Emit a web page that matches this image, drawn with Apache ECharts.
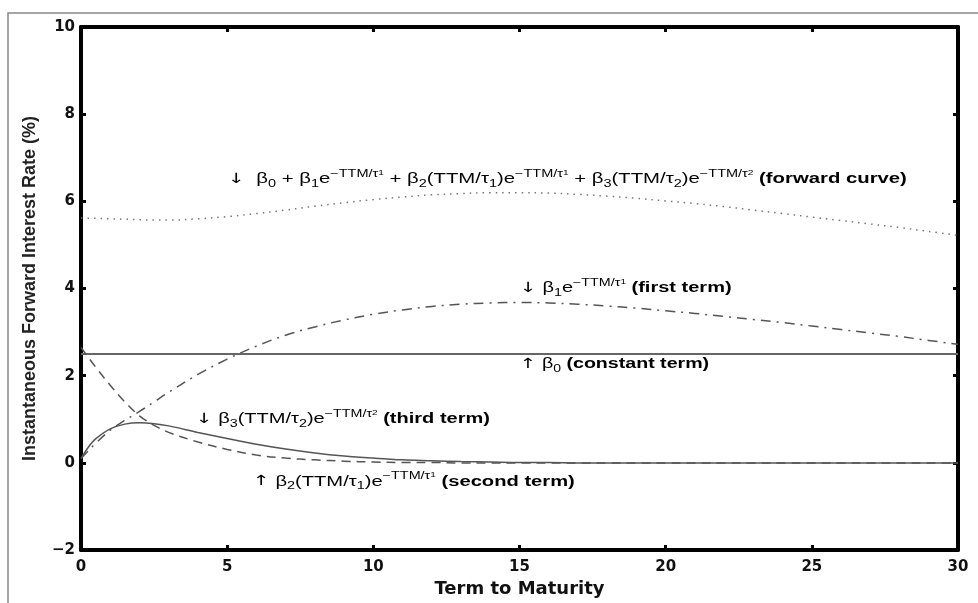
<!DOCTYPE html>
<html>
<head>
<meta charset="utf-8">
<script src="https://cdn.jsdelivr.net/npm/echarts@6/dist/echarts.min.js"></script>
<style>
html, body { margin: 0; padding: 0; background: #fff; }
#main { width: 978px; height: 603px; }
</style>
</head>
<body>
<div id="main"></div>
<script>
// term to maturity (years)
var ttm = [0, 0.25, 0.5, 1, 1.5, 2, 2.5, 3, 4, 5, 6, 7, 8, 9, 10, 11, 12, 13, 14, 15,
    16, 17, 18, 19, 20, 21, 22, 23, 24, 25, 26, 27, 28, 29, 30];

var forwardCurve = [5.62, 5.61, 5.61, 5.6, 5.59, 5.58, 5.57, 5.57, 5.6, 5.65, 5.72, 5.8, 5.89, 5.97, 6.04,
    6.1, 6.15, 6.18, 6.2, 6.2, 6.19, 6.16, 6.12, 6.07, 6.01, 5.95, 5.88, 5.8, 5.72, 5.64,
    5.56, 5.48, 5.4, 5.31, 5.22];
var firstTerm = [0.1, 0.28, 0.45, 0.75, 0.98, 1.18, 1.4, 1.62, 2.03, 2.38, 2.68, 2.93, 3.12, 3.28, 3.41,
    3.51, 3.59, 3.64, 3.67, 3.68, 3.67, 3.64, 3.6, 3.55, 3.49, 3.43, 3.36, 3.29, 3.22, 3.14,
    3.06, 2.98, 2.9, 2.81, 2.72];
var constantTerm = [2.5, 2.5, 2.5, 2.5, 2.5, 2.5, 2.5, 2.5, 2.5, 2.5, 2.5, 2.5, 2.5, 2.5, 2.5,
    2.5, 2.5, 2.5, 2.5, 2.5, 2.5, 2.5, 2.5, 2.5, 2.5, 2.5, 2.5, 2.5, 2.5, 2.5,
    2.5, 2.5, 2.5, 2.5, 2.5];
var thirdTerm = [0.1, 0.36, 0.55, 0.78, 0.89, 0.92, 0.9, 0.85, 0.7, 0.56, 0.43, 0.32, 0.23, 0.16, 0.11,
    0.07, 0.05, 0.03, 0.02, 0.01, 0.01, 0, 0, 0, 0, 0, 0, 0, 0, 0,
    0, 0, 0, 0, 0];
var secondTerm = [2.65, 2.42, 2.2, 1.78, 1.4, 1.08, 0.86, 0.7, 0.48, 0.31, 0.18, 0.11, 0.07, 0.04, 0.02,
    0.01, 0.01, 0, 0, 0, 0, 0, 0, 0, 0, 0, 0, 0, 0, 0,
    0, 0, 0, 0, 0];

function pairs(vals) {
    return ttm.map(function (t, i) { return [t, vals[i]]; });
}

var chart = echarts.init(document.getElementById('main'));

var tickFont = { fontFamily: 'DejaVu Sans', fontWeight: 'bold', fontSize: 15, color: '#111' };
var axisLine = { show: true, onZero: false, lineStyle: { color: '#000', width: 4 } };
var axisTick = { show: true, inside: true, length: 5, lineStyle: { color: '#000', width: 3 } };

function curve(name, vals, type, width, color) {
    return {
        name: name,
        type: 'line',
        data: pairs(vals),
        showSymbol: false,
        smooth: 0.35,
        lineStyle: { color: color || '#555', width: width, type: type },
        z: 3
    };
}

var option = {
    animation: false,
    backgroundColor: '#fff',
    grid: { left: 81, right: 20, top: 27, bottom: 48 },
    xAxis: [{
        type: 'value', min: 0, max: 30, interval: 5, position: 'bottom',
        axisLine: axisLine, axisTick: axisTick, splitLine: { show: false },
        axisLabel: Object.assign({ margin: 10 }, tickFont),
        name: 'Term to Maturity', nameLocation: 'middle', nameGap: 27,
        nameTextStyle: { fontFamily: 'DejaVu Sans', fontWeight: 'bold', fontSize: 18, color: '#111' }
    }, {
        type: 'value', min: 0, max: 30, interval: 5, position: 'top',
        axisLine: axisLine, axisTick: axisTick, splitLine: { show: false },
        axisLabel: { show: false }
    }],
    yAxis: [{
        type: 'value', min: -2, max: 10, interval: 2, position: 'left',
        axisLine: axisLine, axisTick: axisTick, splitLine: { show: false },
        axisLabel: Object.assign({
            margin: 6,
            formatter: function (v) { return String(v).replace('-', '−'); }
        }, tickFont),
        name: 'Instantaneous Forward Interest Rate (%)', nameLocation: 'middle', nameGap: 42,
        nameTextStyle: { fontFamily: 'Liberation Sans', fontWeight: 'bold', fontSize: 18, color: '#222' }
    }, {
        type: 'value', min: -2, max: 10, interval: 2, position: 'right',
        axisLine: axisLine, axisTick: axisTick, splitLine: { show: false },
        axisLabel: { show: false }
    }],
    series: [
        curve('forward curve', forwardCurve, [1.5, 5], 1.5, '#777'),
        curve('first term', firstTerm, [10, 6, 2, 6], 1.5),
        curve('constant term', constantTerm, 'solid', 2, '#666'),
        curve('third term', thirdTerm, 'solid', 1.5),
        curve('second term', secondTerm, [9, 6], 1.5)
    ]
};
chart.setOption(option);

// annotation text, drawn with sub/superscripts
var rich = {
    a: { fontFamily: 'DejaVu Sans', fontSize: 14, lineHeight: 20, color: '#222', verticalAlign: 'middle' },
    n: { fontFamily: 'Liberation Sans', fontSize: 14, lineHeight: 20, color: '#222', verticalAlign: 'middle' },
    sub: { fontFamily: 'Liberation Sans', fontSize: 10, lineHeight: 10, color: '#222', verticalAlign: 'bottom' },
    sup: { fontFamily: 'Liberation Sans', fontSize: 10, lineHeight: 10, color: '#222', verticalAlign: 'top' },
    ss: { fontFamily: 'Liberation Sans', fontSize: 7, lineHeight: 14, color: '#222', verticalAlign: 'top' },
    b: { fontFamily: 'Liberation Sans', fontSize: 14, lineHeight: 20, fontWeight: 'bold', color: '#111', verticalAlign: 'middle' }
};

var expTau1 = '{sup|−TTM/τ}{ss|1}';
var expTau2 = '{sup|−TTM/τ}{ss|2}';
var labels = [
    { at: [5.03, 6.5], sx: 1.45,
      text: '{a|↓}{n|  β}{sub|0}{n| + β}{sub|1}{n|e}' + expTau1 + '{n| + β}{sub|2}{n|(TTM/τ}{sub|1}{n|)e}' + expTau1 +
            '{n| + β}{sub|3}{n|(TTM/τ}{sub|2}{n|)e}' + expTau2 + '{b| (forward curve)}' },
    { at: [15.02, 4.0], sx: 1.43,
      text: '{a|↓}{n| β}{sub|1}{n|e}' + expTau1 + '{b| (first term)}' },
    { at: [15.02, 2.27], sx: 1.4,
      text: '{a|↑}{n| β}{sub|0}{b| (constant term)}' },
    { at: [3.93, 1.0], sx: 1.43,
      text: '{a|↓}{n| β}{sub|3}{n|(TTM/τ}{sub|2}{n|)e}' + expTau2 + '{b| (third term)}' },
    { at: [5.88, -0.43], sx: 1.44,
      text: '{a|↑}{n| β}{sub|2}{n|(TTM/τ}{sub|1}{n|)e}' + expTau1 + '{b| (second term)}' }
];

var graphics = [{
    type: 'rect', z: -10, silent: true,
    shape: { x: 8, y: 13, width: 1000, height: 700 },
    style: { fill: 'none', stroke: '#888', lineWidth: 1.5 }
}];
labels.forEach(function (l) {
    var p = chart.convertToPixel({ xAxisIndex: 0, yAxisIndex: 0 }, l.at);
    graphics.push({
        type: 'text', x: p[0], y: p[1], scaleX: l.sx, z: 10,
        style: {
            text: l.text, rich: rich,
            align: 'left', verticalAlign: 'middle',
            textAlign: 'left', textVerticalAlign: 'middle'
        }
    });
});
chart.setOption({ graphic: graphics });
</script>
</body>
</html>
